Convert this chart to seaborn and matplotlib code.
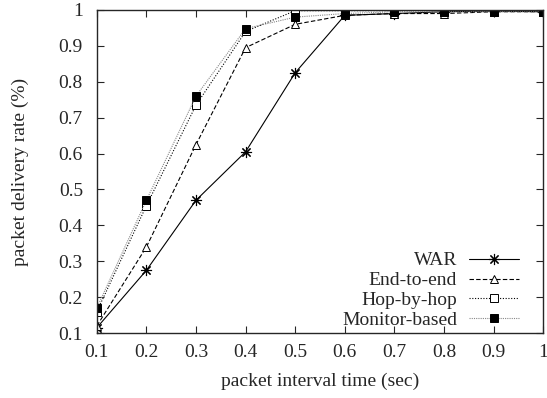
import matplotlib
matplotlib.use("Agg")
import matplotlib.pyplot as plt
import seaborn as sns
import pandas as pd

x_vals = [0.1, 0.2, 0.3, 0.4, 0.5, 0.6, 0.7, 0.8, 0.9, 1.0]
war = [0.115, 0.275, 0.47, 0.605, 0.825, 0.985, 0.99, 0.995, 0.997, 0.995]
end_to_end = [0.12, 0.34, 0.625, 0.895, 0.96, 0.985, 0.99, 0.99, 0.995, 0.995]
hop_by_hop = [0.16, 0.455, 0.735, 0.94, 0.998, 0.998, 0.998, 0.998, 0.998, 0.998]
monitor = [0.17, 0.47, 0.76, 0.948, 0.98, 0.99, 0.995, 0.995, 0.995, 0.995]
labels = ["WAR", "End-to-end", "Hop-by-hop", "Monitor-based"]
x_ticks = [0.1, 0.2, 0.3, 0.4, 0.5, 0.6, 0.7, 0.8, 0.9, 1.0]
y_ticks = [0.1, 0.2, 0.3, 0.4, 0.5, 0.6, 0.7, 0.8, 0.9, 1.0]
tick_text = ["0.1", "0.2", "0.3", "0.4", "0.5", "0.6", "0.7", "0.8", "0.9", "1"]

sns.set_style("ticks")
plt.rcParams["font.family"] = ["Liberation Serif", "DejaVu Serif"]
plt.rcParams["xtick.direction"] = "in"
plt.rcParams["ytick.direction"] = "in"

fig = plt.figure(figsize=(5.47, 3.98), dpi=100)
ax = fig.add_axes([0.177, 0.163, 0.816, 0.812])

series = [war, end_to_end, hop_by_hop, monitor]
styles = [
    dict(color="black", linestyle="-", marker=(8, 2, 0), markersize=8, mfc="black", mec="black", mew=0.8),
    dict(color="black", linestyle=(0, (4, 2)), marker="^", markersize=6, mfc="white", mec="black", mew=0.7),
    dict(color="black", linestyle=(0, (1, 1.5)), marker="s", markersize=6, mfc="white", mec="black", mew=0.7),
    dict(color="#888888", linestyle=(0, (1, 1)), marker="s", markersize=6, mfc="black", mec="black", mew=0.7),
]
for vals, lab, st in zip(series, labels, styles):
    df = pd.DataFrame({"x": x_vals, "y": vals})
    sns.lineplot(data=df, x="x", y="y", ax=ax, label=lab, lw=0.8, **st)

ax.set_xlim(0.1, 1.0)
ax.set_ylim(0.1, 1.0)
ax.set_xticks(x_ticks)
ax.set_xticklabels(tick_text)
ax.set_yticks(y_ticks)
ax.set_yticklabels(tick_text)
ax.tick_params(top=True, right=True, labelsize=14, length=5, width=0.8)
ax.tick_params(axis="y", pad=10)
ax.tick_params(axis="x", pad=8)
for s in ax.spines.values():
    s.set_linewidth(1.0)
ax.set_xlabel("packet interval time (sec)", fontsize=14, labelpad=8)
ax.set_ylabel("packet delivery rate (%)", fontsize=14, labelpad=21)
ax.legend(loc="lower right", frameon=False, markerfirst=False, fontsize=14,
          handlelength=2.6, labelspacing=0.12, borderaxespad=0.0, borderpad=0.2,
          handletextpad=0.6, bbox_to_anchor=(0.955, 0.0))
fig.savefig("out.png", dpi=100)
